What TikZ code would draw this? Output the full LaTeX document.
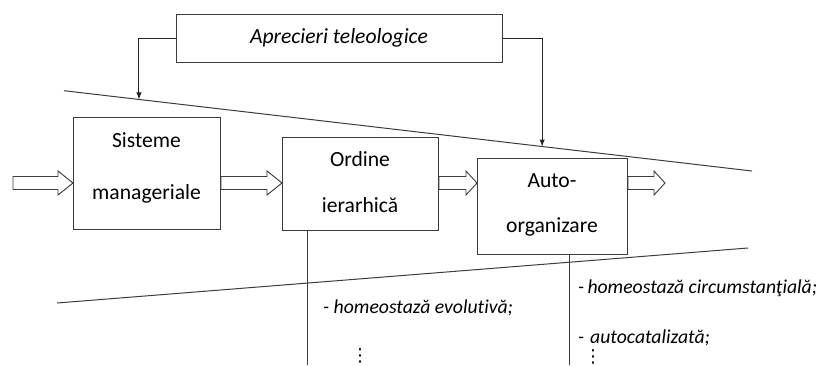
\documentclass[tikz,border=0pt]{standalone}
\usepackage{fontspec}
\setmainfont{Carlito}[Ligatures=NoCommon]
\newfontfamily\symfont{DejaVu Sans}
\usetikzlibrary{arrows.meta,calc}
\definecolor{ln}{HTML}{3C3C3C}
\newcommand\blockarr[3]{%
  \draw[barrow] let \p1=(#1), \p2=(#2) in
    (\x1,\y2+6.5pt) -- (\x2-#3pt,\y2+6.5pt) -- (\x2-#3pt,\y2+12pt) -- (\x2,\y2)
    -- (\x2-#3pt,\y2-12pt) -- (\x2-#3pt,\y2-6.5pt) -- (\x1,\y2-6.5pt) -- cycle;}
\begin{document}
\begin{tikzpicture}[x=1pt,y=-1pt,
  box/.style={draw=ln,line width=1pt,inner sep=0pt,anchor=north west,rectangle},
  boxtxt/.style={anchor=base,inner sep=0pt,font=\fontsize{21.6}{26}\selectfont},
  note/.style={anchor=base west,inner sep=0pt,font=\fontsize{19.7}{24}\selectfont\itshape},
  dots/.style={anchor=base,inner sep=0pt,font=\symfont\fontsize{18}{20}\selectfont},
  barrow/.style={draw=ln,line width=0.9pt,fill=white,line join=miter},
  thinline/.style={draw=ln,line width=1pt},
  conn/.style={draw=black!85,line width=1pt,-{Latex[length=7pt,width=5.5pt]}}]
\useasboundingbox (0,0) rectangle (818,365);
% boxes
\node[box,minimum width=326pt,minimum height=48pt] (ap) at (176,14) {};
\node[box,minimum width=147pt,minimum height=112pt] (sm) at (73,117) {};
\node[box,minimum width=156pt,minimum height=93pt] (oh) at (282,137) {};
\node[box,minimum width=150pt,minimum height=96pt] (au) at (477,158) {};
% texts in boxes
\node[boxtxt,font=\fontsize{21.6}{26}\selectfont\itshape] (apt) at (339,43) {Aprecieri teleologice};
\node[boxtxt] (smt1) at (146.5,147) {Sisteme};
\node[boxtxt] (smt2) at (146.5,199) {manageriale};
\node[boxtxt] (oht1) at (360,166) {Ordine};
\node[boxtxt] (oht2) at (360,212) {ierarhică};
\node[boxtxt] (aut1) at (552,187) {Auto-};
\node[boxtxt] (aut2) at (552,232) {organizare};
% boundary lines
\coordinate (tl1) at (64,90.7);
\coordinate (tl2) at (752,171);
\coordinate (bl1) at (57,303);
\coordinate (bl2) at (748,248);
\draw[thinline] (tl1) -- coordinate[pos=0.109] (c1) coordinate[pos=0.695] (c2) (tl2);
\draw[thinline] (bl1) -- (bl2);
% feedback connectors
\draw[conn] (ap.west) -| (c1);
\draw[conn] (ap.east) -| (c2);
% block arrows
\coordinate (ay) at (0,183);
\coordinate (in) at (13,183);
\coordinate (out) at (665,183);
\blockarr{in}{sm.west|-ay}{15}
\blockarr{sm.east|-ay}{oh.west|-ay}{15}
\blockarr{oh.east|-ay}{au.west|-ay}{11}
\blockarr{au.east|-ay}{out}{11}
% vertical lines
\coordinate (v1) at (307,365);
\coordinate (v2) at (569,365);
\draw[thinline] (v1|-oh.south) -- (v1);
\draw[thinline] (v2|-au.south) -- (v2);
% notes
\node[note] (n1) at (323,313) {- homeostază evolutivă;};
\node[note] (n2) at (578,293) {-\,homeostază circumstanţială;};
\node[note] (n3) at (578,343) {-\hspace{6pt}autocatalizată;};
\node[dots] (d1) at (360,361) {⋮};
\node[dots] (d2) at (593,362) {⋮};
\end{tikzpicture}
\end{document}
